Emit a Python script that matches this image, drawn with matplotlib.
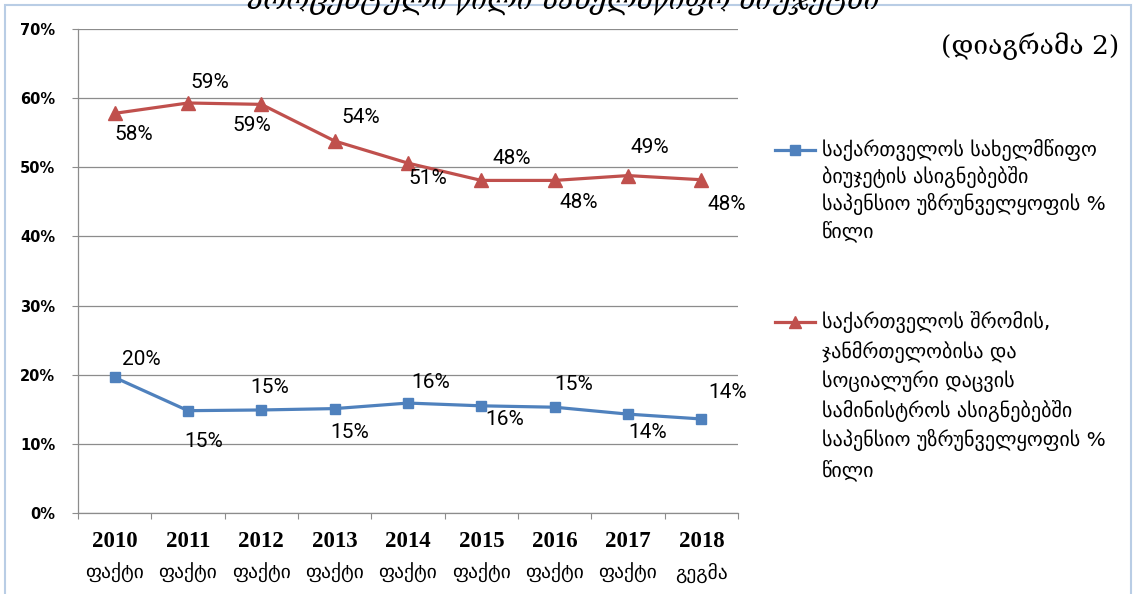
import matplotlib
matplotlib.use("Agg")
import matplotlib.pyplot as plt
from matplotlib.lines import Line2D
from matplotlib.patches import Rectangle
import matplotlib.transforms as mtransforms

# ---- data ----
years = ["2010", "2011", "2012", "2013", "2014", "2015", "2016", "2017", "2018"]
kinds = ["ფაქტი", "ფაქტი", "ფაქტი", "ფაქტი", "ფაქტი", "ფაქტი", "ფაქტი", "ფაქტი", "გეგმა"]
budget_share = [19.6, 14.8, 14.9, 15.1, 15.9, 15.5, 15.3, 14.3, 13.6]
ministry_share = [57.8, 59.3, 59.1, 53.8, 50.6, 48.1, 48.1, 48.8, 48.2]
budget_labels = ["20%", "15%", "15%", "15%", "16%", "16%", "15%", "14%", "14%"]
ministry_labels = ["58%", "59%", "59%", "54%", "51%", "48%", "48%", "49%", "48%"]
yticks = [0, 10, 20, 30, 40, 50, 60, 70]
ytick_labels = ["0%", "10%", "20%", "30%", "40%", "50%", "60%", "70%"]
legend_budget = ("საქართველოს სახელმწიფო\nბიუჯეტის ასიგნებებში\n"
                 "საპენსიო უზრუნველყოფის %\nწილი")
legend_ministry = ("საქართველოს შრომის,\nჯანმრთელობისა და\nსოციალური დაცვის\n"
                   "სამინისტროს ასიგნებებში\nსაპენსიო უზრუნველყოფის %\nწილი")
title_text = "პროცენტული წილი სახელმწიფო ბიუჯეტში"
diagram_text = "(დიაგრამა 2)"

# label offsets (points) -- style only
budget_off = [(19, 13), (11, -22), (6, 16), (11, -17), (16, 15), (17, -10), (14, 16), (14, -13), (19, 19)]
ministry_off = [(14, -15), (16, 15), (-7, -15), (19, 17), (14, -11), (22, 16), (17, -16), (16, 20), (18, -18)]

BLUE = "#4F81BD"
RED = "#C0504D"
GRID = "#8C8C8C"

W, H = 1133, 594
fig = plt.figure(figsize=(W / 100, H / 100), dpi=100)
ax = fig.add_axes([78 / W, 1 - 513 / H, (738 - 78) / W, (513 - 29) / H])

x = list(range(len(years)))
l1, = ax.plot(x, budget_share, color=BLUE, lw=2.3, marker="s", ms=7.5, zorder=3)
l2, = ax.plot(x, ministry_share, color=RED, lw=2.3, marker="^", ms=10, zorder=3)

lab_font = dict(family=["Roboto", "DejaVu Sans"], fontsize=15, color="black")
for xi, v, t, off in zip(x, budget_share, budget_labels, budget_off):
    ax.annotate(t, (xi, v), xytext=off, textcoords="offset points", ha="center", va="center", **lab_font)
for xi, v, t, off in zip(x, ministry_share, ministry_labels, ministry_off):
    ax.annotate(t, (xi, v), xytext=off, textcoords="offset points", ha="center", va="center", **lab_font)

ax.set_xlim(-0.5, len(years) - 0.5)
ax.set_ylim(0, 70)
ax.set_yticks(yticks)
ax.set_yticklabels(ytick_labels, fontsize=10.5, fontweight="bold", family="DejaVu Sans")
ax.tick_params(axis="y", length=4.5, width=0.8, color=GRID, pad=12)
ax.yaxis.grid(True, color=GRID, lw=0.9)
ax.set_axisbelow(True)

ax.set_xticks([i - 0.5 for i in range(len(years) + 1)])
ax.set_xticklabels([])
ax.tick_params(axis="x", which="major", length=4, width=0.8, color=GRID)
ax.set_xticks(x, minor=True)
ax.set_xticklabels(years, minor=True, fontsize=16.5, fontweight="bold", family="Liberation Serif")
ax.tick_params(axis="x", which="minor", length=0, pad=13)

trans = mtransforms.blended_transform_factory(ax.transData, fig.transFigure)
for xi, k in zip(x, kinds):
    ax.text(xi, 1 - 573 / H, k, transform=trans, ha="center", va="center",
            fontsize=14, family="DejaVu Sans")

for s in ["top", "right"]:
    ax.spines[s].set_visible(False)
for s in ["left", "bottom"]:
    ax.spines[s].set_color(GRID)
    ax.spines[s].set_linewidth(0.9)

# border of the chart area
fig.patches.append(Rectangle((5 / W, -0.1), (1131 - 5) / W, 1.1 - 5 / H, transform=fig.transFigure,
                             fill=False, edgecolor="#B9CDE5", lw=1.5, zorder=0))

# title (clipped at the top edge, as in the source)
fig.text(563 / W, 1 - 9 / H, title_text, ha="center", va="baseline", fontsize=20,
         style="italic", family=["DejaVu Serif", "DejaVu Sans"], zorder=5)
fig.text(1030 / W, 1 - 46 / H, diagram_text, ha="center", va="center", fontsize=19,
         family=["DejaVu Serif", "DejaVu Sans"])

# legend (manual keys)
for line, ytop, label, ls in [(l1, 150, legend_budget, 1.3), (l2, 322, legend_ministry, 1.45)]:
    fig.add_artist(Line2D([775 / W, 815 / W], [1 - ytop / H] * 2, color=line.get_color(),
                          lw=line.get_linewidth(), transform=fig.transFigure))
    fig.add_artist(Line2D([795 / W], [1 - ytop / H], color=line.get_color(), marker=line.get_marker(),
                          ms=line.get_markersize() * 0.9, transform=fig.transFigure))
    fig.text(822 / W, 1 - (ytop - 11) / H, label, ha="left", va="top", fontsize=14.5,
             family="DejaVu Sans", linespacing=ls)

fig.savefig("out.png", dpi=100)
